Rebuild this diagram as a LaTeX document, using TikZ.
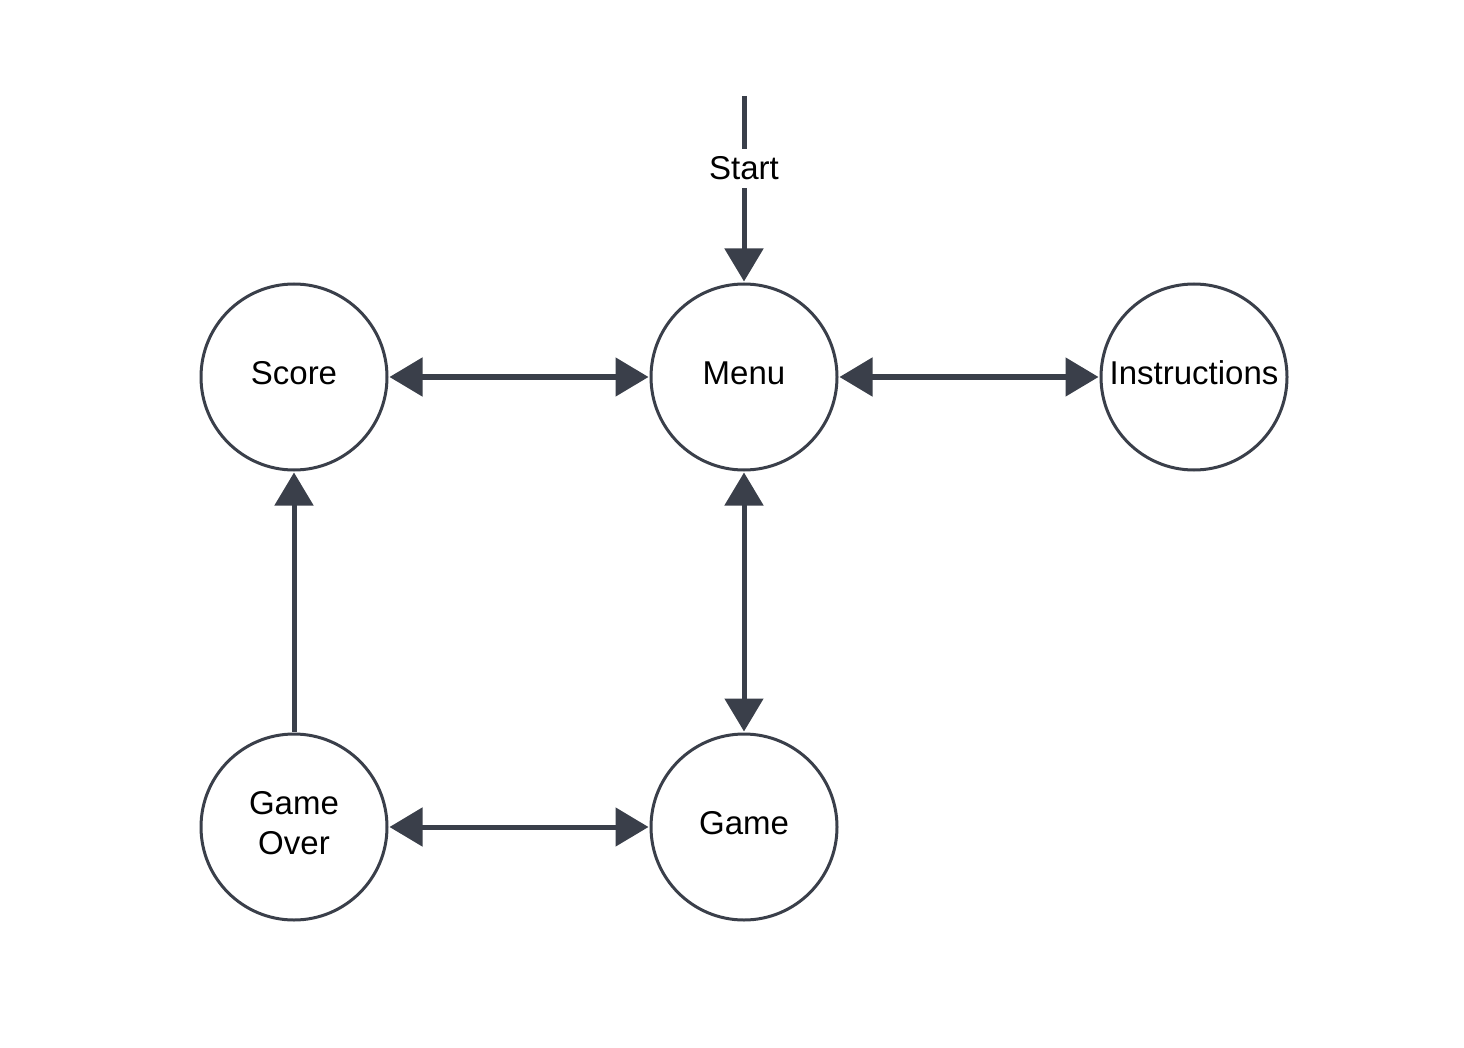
\documentclass[tikz,border=0pt]{standalone}
\usepackage{fontspec}
\setmainfont{Liberation Sans}
\usetikzlibrary{arrows.meta}
\definecolor{ink}{HTML}{3A3F4A}
\tikzset{
  state/.style={circle, draw=ink, line width=3pt, minimum size=186pt, inner sep=0pt, outer sep=2.5pt},
  lbl/.style={inner sep=0pt, font=\fontsize{33}{40}\selectfont, align=center},
  conn/.style={draw=ink, line width=5pt, -{Triangle[length=33pt,width=38pt]}},
  biconn/.style={draw=ink, line width=5pt, {Triangle[length=33pt,width=38pt]}-{Triangle[length=33pt,width=38pt]}},
}
\begin{document}
\begin{tikzpicture}[x=1pt,y=-1pt]
\useasboundingbox (0,0) rectangle (1464,1048);
\node[state] (score) at (294,377) {};
\node[state] (menu) at (744,377) {};
\node[state] (instr) at (1194,377) {};
\node[state] (over) at (294,827) {};
\node[state] (game) at (744,827) {};
\node[lbl] (scoretxt) at ([yshift=4pt]score.center) {Score};
\node[lbl] (menutxt) at ([yshift=4pt]menu.center) {Menu};
\node[lbl] (instrtxt) at ([yshift=4pt]instr.center) {Instructions};
\node[lbl] (overtxt) at ([yshift=4pt]over.center) {Game\\Over};
\node[lbl] (gametxt) at ([yshift=4pt]game.center) {Game};
\coordinate (startpt) at (744,96);
\draw[conn] (startpt) -- (menu) node[pos=0.39, fill=white, inner xsep=4pt, inner ysep=8pt, font=\fontsize{33}{40}\selectfont] (startlbl) {Start};
\draw[biconn] (score) -- (menu);
\draw[biconn] (menu) -- (instr);
\draw[biconn] (menu) -- (game);
\draw[biconn] (over) -- (game);
\draw[conn] (over) -- (score);
\end{tikzpicture}
\end{document}
